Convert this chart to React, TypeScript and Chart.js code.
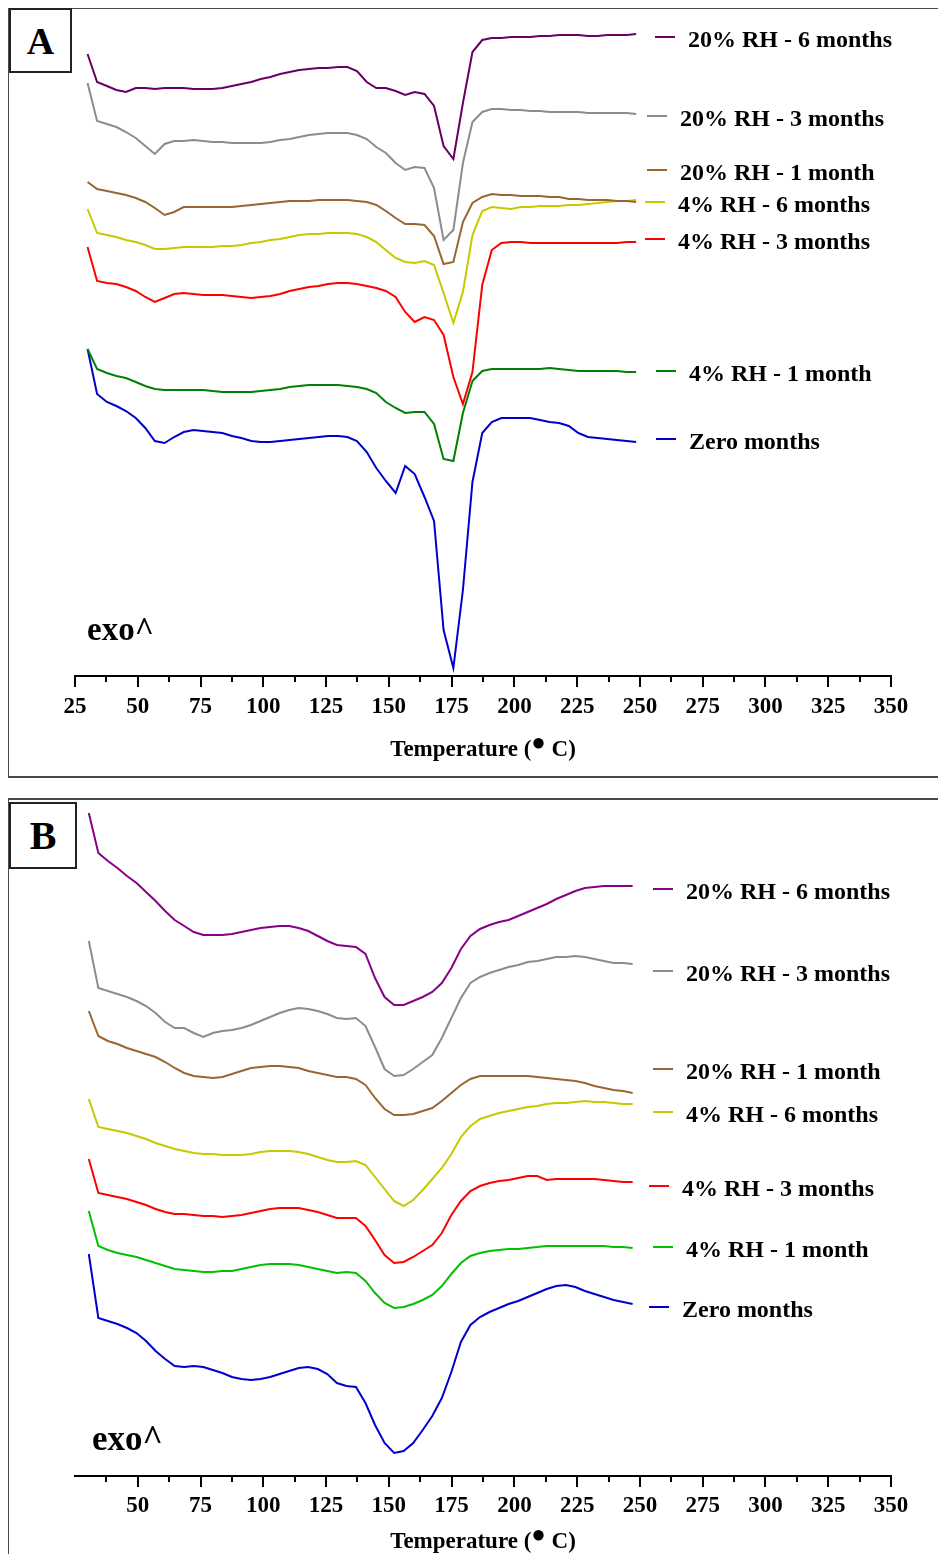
import React, { useEffect, useRef } from "react";
import { Chart, registerables } from "chart.js";

Chart.register(...registerables);

// Temperature grid (°C) of the exported DSC traces
const tempsA = [
  30.0, 33.8, 37.7, 41.5, 45.3, 49.2, 53.0, 56.8, 60.7, 64.5,
  68.3, 72.2, 76.0, 79.8, 83.7, 87.5, 91.3, 95.2, 99.0, 102.8,
  106.7, 110.5, 114.3, 118.2, 122.0, 125.8, 129.7, 133.5, 137.3, 141.2,
  145.0, 148.8, 152.7, 156.5, 160.3, 164.2, 168.0, 171.8, 175.7, 179.5,
  183.3, 187.2, 191.0, 194.8, 198.7, 202.5, 206.3, 210.2, 214.0, 217.8,
  221.7, 225.5, 229.3, 233.2, 237.0, 240.8, 244.7, 248.5,
];
const tempsB = [
  30.5, 34.3, 38.1, 41.9, 45.7, 49.5, 53.3, 57.1, 60.9, 64.7,
  68.5, 72.3, 76.1, 79.9, 83.7, 87.5, 91.3, 95.1, 98.9, 102.7,
  106.5, 110.3, 114.1, 117.9, 121.7, 125.5, 129.3, 133.1, 136.9, 140.7,
  144.5, 148.3, 152.1, 155.9, 159.7, 163.5, 167.3, 171.1, 174.9, 178.7,
  182.5, 186.3, 190.1, 193.9, 197.7, 201.5, 205.3, 209.1, 212.9, 216.7,
  220.5, 224.3, 228.1, 231.9, 235.7, 239.5, 243.3, 247.1,
];

// Panel A: heat flow, offset traces (arbitrary units, exo up)
const a20rh6m = [
  62.2, 59.4, 59.0, 58.6, 58.4, 58.8, 58.8, 58.7, 58.8, 58.8,
  58.8, 58.7, 58.7, 58.7, 58.8, 59.0, 59.2, 59.4, 59.7, 59.9,
  60.2, 60.4, 60.6, 60.7, 60.8, 60.8, 60.9, 60.9, 60.5, 59.4,
  58.8, 58.8, 58.5, 58.1, 58.4, 58.2, 57.0, 53.0, 51.7, 57.3,
  62.4, 63.6, 63.8, 63.8, 63.9, 63.9, 63.9, 64.0, 64.0, 64.1,
  64.1, 64.1, 64.0, 64.0, 64.1, 64.1, 64.1, 64.2,
];
const a20rh3m = [
  59.3, 55.5, 55.2, 54.9, 54.4, 53.8, 53.0, 52.2, 53.2, 53.5,
  53.5, 53.6, 53.5, 53.4, 53.4, 53.3, 53.3, 53.3, 53.3, 53.4,
  53.6, 53.7, 53.9, 54.1, 54.2, 54.3, 54.3, 54.3, 54.1, 53.7,
  52.9, 52.3, 51.3, 50.6, 50.9, 50.8, 48.8, 43.6, 44.6, 51.3,
  55.4, 56.4, 56.7, 56.7, 56.6, 56.6, 56.5, 56.5, 56.4, 56.4,
  56.4, 56.4, 56.3, 56.3, 56.3, 56.3, 56.3, 56.2,
];
const a20rh1m = [
  49.4, 48.7, 48.5, 48.3, 48.1, 47.8, 47.4, 46.8, 46.1, 46.4,
  46.9, 46.9, 46.9, 46.9, 46.9, 46.9, 47.0, 47.1, 47.2, 47.3,
  47.4, 47.5, 47.5, 47.5, 47.6, 47.6, 47.6, 47.6, 47.5, 47.4,
  47.1, 46.5, 45.8, 45.2, 45.2, 45.1, 44.0, 41.2, 41.4, 45.4,
  47.3, 47.9, 48.2, 48.1, 48.1, 48.0, 48.0, 48.0, 47.9, 47.9,
  47.7, 47.7, 47.6, 47.6, 47.6, 47.5, 47.5, 47.4,
];
const a4rh6m = [
  46.7, 44.3, 44.1, 43.9, 43.6, 43.4, 43.1, 42.7, 42.7, 42.8,
  42.9, 42.9, 42.9, 42.9, 43.0, 43.0, 43.1, 43.3, 43.4, 43.6,
  43.7, 43.9, 44.1, 44.2, 44.2, 44.3, 44.3, 44.3, 44.2, 43.9,
  43.4, 42.6, 41.8, 41.4, 41.3, 41.5, 41.1, 38.3, 35.3, 38.4,
  44.1, 46.5, 46.9, 46.8, 46.7, 46.9, 46.9, 47.0, 47.0, 47.0,
  47.1, 47.1, 47.2, 47.3, 47.4, 47.5, 47.5, 47.6,
];
const a4rh3m = [
  42.9, 39.5, 39.3, 39.2, 38.9, 38.5, 37.9, 37.4, 37.8, 38.2,
  38.3, 38.2, 38.1, 38.1, 38.1, 38.0, 37.9, 37.8, 37.9, 38.0,
  38.2, 38.5, 38.7, 38.9, 39.0, 39.2, 39.3, 39.3, 39.2, 39.0,
  38.8, 38.5, 37.9, 36.4, 35.4, 35.9, 35.6, 34.1, 29.9, 27.2,
  30.4, 39.1, 42.6, 43.3, 43.4, 43.4, 43.3, 43.3, 43.3, 43.3,
  43.3, 43.3, 43.3, 43.3, 43.3, 43.3, 43.4, 43.4,
];
const a4rh1m = [
  32.7, 30.7, 30.3, 30.0, 29.8, 29.4, 29.0, 28.7, 28.6, 28.6,
  28.6, 28.6, 28.6, 28.5, 28.4, 28.4, 28.4, 28.4, 28.5, 28.6,
  28.7, 28.9, 29.0, 29.1, 29.1, 29.1, 29.1, 29.0, 28.9, 28.7,
  28.3, 27.4, 26.8, 26.3, 26.4, 26.4, 25.2, 21.7, 21.5, 26.3,
  29.5, 30.5, 30.7, 30.7, 30.7, 30.7, 30.7, 30.7, 30.8, 30.7,
  30.6, 30.5, 30.5, 30.5, 30.5, 30.5, 30.4, 30.4,
];
const aZero = [
  32.7, 28.2, 27.4, 27.0, 26.5, 25.8, 24.8, 23.5, 23.3, 23.9,
  24.4, 24.6, 24.5, 24.4, 24.3, 24.0, 23.8, 23.5, 23.4, 23.4,
  23.5, 23.6, 23.7, 23.8, 23.9, 24.0, 24.0, 23.9, 23.5, 22.4,
  20.8, 19.5, 18.3, 21.0, 20.2, 17.9, 15.5, 4.6, 0.8, 8.6,
  19.4, 24.3, 25.4, 25.8, 25.8, 25.8, 25.8, 25.6, 25.4, 25.3,
  25.0, 24.3, 23.9, 23.8, 23.7, 23.6, 23.5, 23.4,
];

// Panel B: heat flow, offset traces (arbitrary units, exo up)
const b20rh6m = [
  66.3, 62.3, 61.5, 60.8, 60.0, 59.3, 58.4, 57.5, 56.5, 55.6,
  55.0, 54.4, 54.1, 54.1, 54.1, 54.2, 54.4, 54.6, 54.8, 54.9,
  55.0, 55.0, 54.8, 54.5, 54.0, 53.5, 53.1, 53.0, 52.9, 52.2,
  49.8, 47.9, 47.1, 47.1, 47.5, 47.9, 48.4, 49.3, 50.8, 52.7,
  54.0, 54.7, 55.1, 55.4, 55.6, 56.0, 56.4, 56.8, 57.2, 57.7,
  58.1, 58.5, 58.8, 58.9, 59.0, 59.0, 59.0, 59.0,
];
const b20rh3m = [
  53.5, 48.8, 48.5, 48.2, 47.9, 47.5, 47.0, 46.3, 45.4, 44.8,
  44.8, 44.3, 43.9, 44.3, 44.5, 44.6, 44.8, 45.1, 45.5, 45.9,
  46.3, 46.6, 46.8, 46.7, 46.5, 46.2, 45.8, 45.7, 45.8, 45.0,
  42.9, 40.7, 40.0, 40.1, 40.7, 41.4, 42.1, 43.8, 45.8, 47.8,
  49.3, 49.9, 50.3, 50.6, 50.9, 51.1, 51.4, 51.5, 51.7, 51.9,
  51.9, 52.0, 51.9, 51.7, 51.5, 51.3, 51.3, 51.2,
];
const b20rh1m = [
  46.5, 44.0, 43.5, 43.2, 42.8, 42.5, 42.2, 41.9, 41.4, 40.8,
  40.3, 40.0, 39.9, 39.8, 39.9, 40.2, 40.5, 40.8, 40.9, 41.0,
  41.0, 40.9, 40.8, 40.5, 40.3, 40.1, 39.9, 39.9, 39.7, 39.1,
  37.8, 36.7, 36.1, 36.1, 36.2, 36.5, 36.8, 37.5, 38.3, 39.1,
  39.7, 40.0, 40.0, 40.0, 40.0, 40.0, 40.0, 39.9, 39.8, 39.7,
  39.6, 39.5, 39.3, 39.0, 38.8, 38.6, 38.5, 38.3,
];
const b4rh6m = [
  37.7, 34.9, 34.7, 34.5, 34.3, 34.0, 33.7, 33.3, 33.0, 32.7,
  32.5, 32.3, 32.2, 32.2, 32.1, 32.1, 32.1, 32.2, 32.4, 32.5,
  32.5, 32.5, 32.4, 32.2, 31.9, 31.6, 31.4, 31.4, 31.5, 31.1,
  29.9, 28.7, 27.5, 27.0, 27.6, 28.6, 29.7, 30.8, 32.2, 33.9,
  35.0, 35.7, 36.0, 36.3, 36.5, 36.7, 36.9, 37.0, 37.2, 37.3,
  37.3, 37.4, 37.5, 37.4, 37.4, 37.3, 37.2, 37.2,
];
const b4rh3m = [
  31.7, 28.3, 28.1, 27.9, 27.7, 27.4, 27.1, 26.7, 26.4, 26.2,
  26.2, 26.1, 26.0, 26.0, 25.9, 26.0, 26.1, 26.3, 26.5, 26.7,
  26.8, 26.8, 26.8, 26.6, 26.4, 26.1, 25.8, 25.8, 25.8, 25.0,
  23.6, 22.1, 21.3, 21.4, 21.9, 22.5, 23.1, 24.3, 26.1, 27.5,
  28.5, 29.0, 29.3, 29.5, 29.6, 29.8, 30.0, 30.0, 29.6, 29.7,
  29.7, 29.7, 29.7, 29.7, 29.6, 29.5, 29.4, 29.4,
];
const b4rh1m = [
  26.5, 23.0, 22.6, 22.3, 22.1, 21.9, 21.6, 21.3, 21.0, 20.7,
  20.6, 20.5, 20.4, 20.4, 20.5, 20.5, 20.7, 20.9, 21.1, 21.2,
  21.2, 21.2, 21.1, 20.9, 20.7, 20.5, 20.3, 20.4, 20.3, 19.5,
  18.3, 17.3, 16.8, 16.9, 17.2, 17.6, 18.1, 19.0, 20.2, 21.3,
  22.0, 22.3, 22.5, 22.6, 22.7, 22.7, 22.8, 22.9, 23.0, 23.0,
  23.0, 23.0, 23.0, 23.0, 23.0, 22.9, 22.9, 22.8,
];
const bZero = [
  22.2, 15.8, 15.5, 15.2, 14.8, 14.3, 13.5, 12.5, 11.7, 11.0,
  10.9, 11.0, 10.9, 10.6, 10.3, 9.9, 9.7, 9.6, 9.7, 9.9,
  10.2, 10.5, 10.8, 10.9, 10.7, 10.2, 9.3, 9.0, 8.9, 7.3,
  5.1, 3.3, 2.3, 2.5, 3.3, 4.6, 6.0, 7.8, 10.4, 13.4,
  15.1, 15.9, 16.4, 16.8, 17.2, 17.5, 17.9, 18.3, 18.7, 19.0,
  19.1, 18.9, 18.5, 18.2, 17.9, 17.6, 17.4, 17.2,
];

// Axis ticks (°C)
const majorTicks = [25, 50, 75, 100, 125, 150, 175, 200, 225, 250, 275, 300, 325, 350];
const minorTicks = [37.5, 62.5, 87.5, 112.5, 137.5, 162.5, 187.5, 212.5, 237.5, 262.5, 287.5, 312.5, 337.5];
const tickLabelsA = [25, 50, 75, 100, 125, 150, 175, 200, 225, 250, 275, 300, 325, 350];
const tickLabelsB = [50, 75, 100, 125, 150, 175, 200, 225, 250, 275, 300, 325, 350];

const seriesLabels = [
  "20% RH - 6 months",
  "20% RH - 3 months",
  "20% RH - 1 month",
  "4% RH - 6 months",
  "4% RH - 3 months",
  "4% RH - 1 month",
  "Zero months",
];
const colorsA = ["#660066", "#8c8c8c", "#996633", "#c8c800", "#ff0000", "#008000", "#0000cc"];
const colorsB = ["#880088", "#8c8c8c", "#996633", "#c8c800", "#ff0000", "#00c000", "#0000cc"];

// Legend anchors: line start temperature and level, in the chart's own units
const legendTA = [256.0, 252.8, 252.8, 252.0, 252.0, 256.4, 256.4];
const legendVA = [63.9, 56.0, 50.6, 47.4, 43.75, 30.5, 23.7];
const legendTB = [255.2, 255.2, 255.2, 255.2, 253.6, 255.2, 253.6];
const legendVB = [58.7, 50.5, 40.7, 36.4, 29.0, 22.9, 16.9];

const SERIF = '"Liberation Serif", "Times New Roman", serif';

const decorPlugin = {
  id: "dscDecor",
  afterDraw(chart: any, _args: any, opts: any) {
    const { ctx, chartArea } = chart;
    const xs = chart.scales.x;
    const ys = chart.scales.y;
    const base = Math.round(chartArea.bottom);
    ctx.save();

    // temperature axis line with major and minor ticks
    ctx.strokeStyle = "#000";
    ctx.lineWidth = 2;
    ctx.lineCap = "butt";
    ctx.beginPath();
    ctx.moveTo(xs.getPixelForValue(25) - 1, base);
    ctx.lineTo(xs.getPixelForValue(350) + 1, base);
    ctx.stroke();
    ctx.beginPath();
    for (const t of opts.majors) {
      const x = Math.round(xs.getPixelForValue(t));
      ctx.moveTo(x, base);
      ctx.lineTo(x, base + 11);
    }
    for (const t of opts.minors) {
      const x = Math.round(xs.getPixelForValue(t));
      ctx.moveTo(x, base);
      ctx.lineTo(x, base + 6);
    }
    ctx.stroke();

    // tick labels
    ctx.fillStyle = "#000";
    ctx.textAlign = "center";
    ctx.textBaseline = "alphabetic";
    ctx.font = `bold 23px ${SERIF}`;
    for (const t of opts.labels) {
      ctx.fillText(String(t), xs.getPixelForValue(t), base + opts.labelOffset);
    }

    // axis title with a raised degree dot
    const mainFont = `bold 23px ${SERIF}`;
    const dotFont = `bold 24px ${SERIF}`;
    const p1 = "Temperature (";
    const dot = "●";
    const p3 = " C)";
    ctx.font = mainFont;
    const w1 = ctx.measureText(p1).width;
    const w3 = ctx.measureText(p3).width;
    ctx.font = dotFont;
    const dm = ctx.measureText(dot);
    const dotA = dm.actualBoundingBoxAscent || 0;
    const dotD = dm.actualBoundingBoxDescent || 0;
    const total = w1 + dm.width + w3;
    let x = (chartArea.left + chartArea.right) / 2 - total / 2;
    const ty = base + opts.titleOffset;
    ctx.textAlign = "left";
    ctx.font = mainFont;
    ctx.fillText(p1, x, ty);
    x += w1;
    ctx.font = dotFont;
    // centre the dot glyph 13px above the title baseline
    ctx.fillText(dot, x, ty - 13 + (dotA - dotD) / 2);
    x += dm.width;
    ctx.font = mainFont;
    ctx.fillText(p3, x, ty);

    // exo direction marker
    ctx.font = `bold ${opts.exoSize}px ${SERIF}`;
    ctx.fillText("exo^", chartArea.left + opts.exoDx, base - opts.exoDy);

    // legend entries placed beside the traces
    ctx.font = `bold 24px ${SERIF}`;
    ctx.lineWidth = 2;
    opts.legend.forEach((it: any) => {
      const lx = Math.round(xs.getPixelForValue(it.t));
      const ly = Math.round(ys.getPixelForValue(it.v));
      ctx.strokeStyle = it.color;
      ctx.beginPath();
      ctx.moveTo(lx, ly);
      ctx.lineTo(lx + 20, ly);
      ctx.stroke();
      ctx.fillStyle = "#000";
      ctx.fillText(it.label, lx + 33, ly + 9.5);
    });

    ctx.restore();
  },
};

type PanelProps = {
  temps: number[];
  series: number[][];
  colors: string[];
  legendT: number[];
  legendV: number[];
  yMax: number;
  padding: { left: number; right: number; top: number; bottom: number };
  width: number;
  height: number;
  top: number;
  labels: number[];
  labelOffset: number;
  titleOffset: number;
  exoSize: number;
  exoDx: number;
  exoDy: number;
};

function DscPanel(p: PanelProps) {
  const ref = useRef<HTMLCanvasElement>(null);
  useEffect(() => {
    const chart = new Chart(ref.current as HTMLCanvasElement, {
      type: "line",
      data: {
        datasets: p.series.map((vals, si) => ({
          label: seriesLabels[si],
          data: p.temps.map((t, i) => ({ x: t, y: vals[i] })),
          borderColor: p.colors[si],
          backgroundColor: p.colors[si],
          borderWidth: 2,
          pointRadius: 0,
          tension: 0,
          fill: false,
        })),
      },
      options: {
        responsive: false,
        animation: false,
        devicePixelRatio: 1,
        layout: { padding: p.padding },
        scales: {
          x: { type: "linear", min: 25, max: 350, display: false },
          y: { type: "linear", min: 0, max: p.yMax, display: false },
        },
        plugins: {
          legend: { display: false },
          tooltip: { enabled: false },
          dscDecor: {
            majors: p.labels[0] === 25 ? majorTicks : majorTicks.filter((t) => t >= 50),
            minors: minorTicks,
            labels: p.labels,
            labelOffset: p.labelOffset,
            titleOffset: p.titleOffset,
            exoSize: p.exoSize,
            exoDx: p.exoDx,
            exoDy: p.exoDy,
            legend: seriesLabels.map((label, i) => ({
              label,
              color: p.colors[i],
              t: p.legendT[i],
              v: p.legendV[i],
            })),
          },
        } as any,
      },
      plugins: [decorPlugin as any],
    });
    return () => chart.destroy();
  }, []);
  return (
    <canvas
      ref={ref}
      width={p.width}
      height={p.height}
      style={{ position: "absolute", left: 0, top: p.top, width: p.width, height: p.height }}
    />
  );
}

const frameColor = "#4a4a4a";

export default function App() {
  useEffect(() => {
    document.documentElement.style.overflow = "hidden";
    document.body.style.overflow = "hidden";
  }, []);
  const labelBox = (txt: string, left: number, top: number, w: number, h: number, size: number) => (
    <div
      style={{
        position: "absolute",
        left,
        top,
        width: w,
        height: h,
        boxSizing: "border-box",
        border: "2px solid #222",
        background: "#fff",
        display: "flex",
        alignItems: "center",
        justifyContent: "center",
        fontFamily: SERIF,
        fontWeight: "bold",
        fontSize: size,
        lineHeight: 1,
        color: "#000",
      }}
    >
      {txt}
    </div>
  );
  return (
    <div style={{ position: "relative", width: 938, height: 1546 }}>
      <div
        style={{
          position: "absolute",
          left: -1,
          top: -1,
          width: 939,
          height: 771,
          boxSizing: "border-box",
          borderTop: `2px solid ${frameColor}`,
          borderLeft: `2px solid ${frameColor}`,
          borderBottom: `2px solid ${frameColor}`,
        }}
      />
      <div
        style={{
          position: "absolute",
          left: -1,
          top: 790,
          width: 939,
          height: 756,
          boxSizing: "border-box",
          borderTop: `2px solid ${frameColor}`,
          borderLeft: `2px solid ${frameColor}`,
        }}
      />
      <DscPanel
        temps={tempsA}
        series={[a20rh6m, a20rh3m, a20rh1m, a4rh6m, a4rh3m, a4rh1m, aZero]}
        colors={colorsA}
        legendT={legendTA}
        legendV={legendVA}
        yMax={66}
        padding={{ left: 67, right: 55, top: 8, bottom: 101 }}
        width={938}
        height={769}
        top={0}
        labels={tickLabelsA}
        labelOffset={37}
        titleOffset={80}
        exoSize={33}
        exoDx={12}
        exoDy={36}
      />
      <DscPanel
        temps={tempsB}
        series={[b20rh6m, b20rh3m, b20rh1m, b4rh6m, b4rh3m, b4rh1m, bZero]}
        colors={colorsB}
        legendT={legendTB}
        legendV={legendVB}
        yMax={67}
        padding={{ left: 67, right: 55, top: 7, bottom: 86 }}
        width={938}
        height={763}
        top={791}
        labels={tickLabelsB}
        labelOffset={36}
        titleOffset={72}
        exoSize={35}
        exoDx={17}
        exoDy={26}
      />
      {labelBox("A", 1, 0, 63, 65, 38)}
      {labelBox("B", 1, 794, 68, 67, 40)}
    </div>
  );
}
